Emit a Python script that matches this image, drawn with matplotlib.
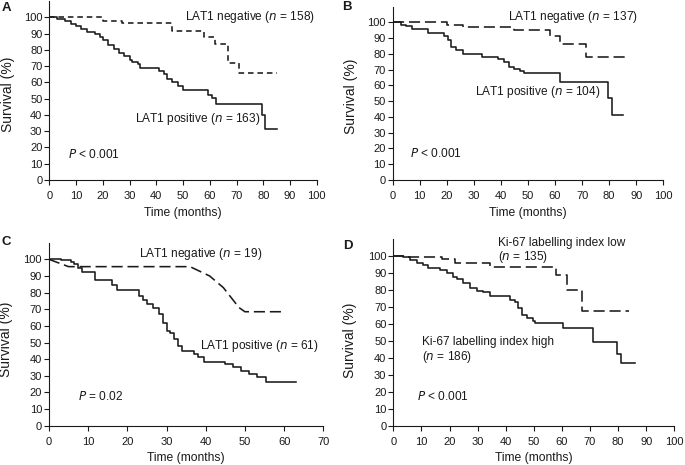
import matplotlib
matplotlib.use("Agg")
import matplotlib.pyplot as plt

plt.rcParams['font.family'] = ['Liberation Sans', 'DejaVu Sans']
plt.rcParams['lines.scale_dashes'] = False

# panel A: LAT1 expression, all patients
a_pos_t = [0, 3, 6, 8, 10, 12, 14, 17, 19, 20, 22, 24, 26, 28, 30, 31, 33, 34, 41, 43, 44, 46, 48, 50, 59.5, 61, 62.3, 79.5, 80.5, 85]
a_pos_s = [100, 99, 97.5, 96, 94.5, 92.5, 91, 89.5, 88, 86, 83, 80.5, 78, 76, 74, 72.5, 71, 68.6, 67, 65, 62, 60, 58, 55.3, 52, 50.5, 47, 40, 31.6, 31.6]
a_neg_t = [0, 20, 27, 46, 58, 62, 67, 71, 85]
a_neg_s = [100, 98, 96.5, 91.5, 88, 83.6, 72, 65.6, 65.6]

# panel B
b_pos_t = [0, 3, 5, 7, 13, 19, 20.5, 21.5, 23.5, 26, 33, 39, 41, 43, 45, 47, 48.5, 62, 79.5, 81, 85]
b_pos_s = [100, 98.5, 97.5, 95.8, 93, 91.5, 89, 84.6, 82.5, 79.9, 77.8, 76.5, 75, 71.9, 70.5, 69, 68, 62.4, 52, 41.4, 41.4]
b_neg_t = [0, 20, 26, 45, 58, 61.8, 71.5, 87]
b_neg_s = [100, 98.5, 97, 95, 91, 86, 78, 78]

# panel C
c_pos_t = [0, 3, 5.5, 6.5, 7.5, 8.5, 11.7, 16.2, 17.3, 23, 24, 25, 26.5, 28, 29, 30, 31, 32, 33, 34, 37, 38, 39.5, 45, 47, 49, 51, 53, 55.5, 63]
c_pos_s = [100, 99.3, 98.6, 97, 94.6, 92.6, 87.6, 84.6, 81.6, 78, 75.5, 73, 70.5, 67, 62, 57, 55.5, 52, 48, 45, 43, 41, 38.5, 37, 35, 33, 31, 29, 26, 26]
c_neg_t = [0, 5, 36, 41, 44.5, 48.5, 50, 60]
c_neg_s = [100, 95.6, 95.6, 90, 83, 71, 68.5, 68.5]

# panel D: Ki-67
d_pos_t = [0, 3.6, 5.9, 8.3, 10.7, 12.5, 16.6, 19, 21.4, 22.5, 24.9, 27.3, 29.7, 32, 34.4, 41.5, 43.3, 44.5, 45.7, 47.4, 49.8, 50.4, 60.3, 71, 79.5, 81, 86]
d_pos_s = [100, 99.2, 97.6, 95.7, 94.7, 92.7, 91.7, 89.8, 87.8, 86.2, 83.9, 80.9, 79.4, 78.6, 76.4, 74, 73, 69.2, 65.2, 63.3, 61.9, 60.3, 57.8, 49.5, 42, 36.7, 36.7]
d_neg_t = [0, 5, 17.5, 22, 34.5, 58, 61.7, 67, 84]
d_neg_s = [100, 99.2, 98, 96, 93.5, 89, 80, 67.5, 67.5]

ink = '#1a1a1a'
fs = 8.6
fig = plt.figure(figsize=(6.85, 4.65), dpi=100)


def setup(rect, xmax, xstep):
    ax = fig.add_axes(rect)
    ax.set_xlim(0, xmax)
    ax.set_ylim(0, 110)
    ax.set_xticks(range(0, xmax + 1, xstep))
    ax.set_yticks(range(0, 101, 10))
    for s in ['top', 'right']:
        ax.spines[s].set_visible(False)
    for s in ['left', 'bottom']:
        ax.spines[s].set_linewidth(0.8)
        ax.spines[s].set_color(ink)
    ax.tick_params(direction='out', length=3.5, width=0.8, color=ink,
                   labelsize=8, labelcolor=ink)
    ax.tick_params(axis='x', pad=4.5)
    ax.tick_params(axis='y', pad=1.5)
    ax.set_xlabel('Time (months)', fontsize=8.7, color=ink)
    ax.set_ylabel('Survival (%)', fontsize=10, color=ink)
    return ax


def curve(ax, t, s, dashes=None, steps=True):
    kw = dict(color=ink, lw=1.15)
    if steps:
        kw['drawstyle'] = 'steps-post'
    line, = ax.plot(t, s, **kw)
    if dashes:
        line.set_dashes(dashes)


def label(ax, x, y, pre, n):
    ax.text(x, y, pre + ' ($\\it{n}$ = ' + n + ')', fontsize=fs, color=ink, va='center')


# A
axA = setup([0.072, 0.6129, 0.3904, 0.385], 100, 10)
curve(axA, a_pos_t, a_pos_s)
curve(axA, a_neg_t, a_neg_s, dashes=(4.0, 2.8))
label(axA, 50.7, 100.2, 'LAT1 negative', '158')
label(axA, 32, 37.5, 'LAT1 positive', '163')
axA.text(7, 15.4, '$\\it{P}$ < 0.001', fontsize=fs, color=ink, va='center')
axA.yaxis.set_label_coords(-0.128, 0.48)
axA.xaxis.set_label_coords(0.5, -0.151)

# B
axB = setup([0.5733, 0.6129, 0.395, 0.3731], 100, 10)
curve(axB, b_pos_t, b_pos_s)
curve(axB, b_neg_t, b_neg_s, dashes=(8.0, 3.5))
label(axB, 42.6, 103.5, 'LAT1 negative', '137')
label(axB, 30.4, 56, 'LAT1 positive', '104')
axB.text(6.4, 16.5, '$\\it{P}$ < 0.001', fontsize=fs, color=ink, va='center')
axB.yaxis.set_label_coords(-0.128, 0.48)
axB.xaxis.set_label_coords(0.5, -0.157)

# C
axC = setup([0.0715, 0.0845, 0.4004, 0.3936], 70, 10)
curve(axC, c_pos_t, c_pos_s)
curve(axC, c_neg_t, c_neg_s, dashes=(8.0, 3.5), steps=False)
label(axC, 23, 103, 'LAT1 negative', '19')
label(axC, 38.5, 47.9, 'LAT1 positive', '61')
axC.text(7.5, 17.4, '$\\it{P}$ = 0.02', fontsize=fs, color=ink, va='center')
axC.yaxis.set_label_coords(-0.131, 0.47)
axC.xaxis.set_label_coords(0.5, -0.142)

# D
axD = setup([0.5742, 0.0845, 0.4102, 0.4015], 100, 10)
curve(axD, d_pos_t, d_pos_s)
curve(axD, d_neg_t, d_neg_s, dashes=(8.0, 3.5))
axD.text(37.4, 102.9, 'Ki-67 labelling index low\n($\\it{n}$ = 135)', fontsize=fs,
         color=ink, va='center', linespacing=1.05)
axD.text(10.1, 44.4, 'Ki-67 labelling index high\n($\\it{n}$ = 186)', fontsize=fs,
         color=ink, va='center', linespacing=1.15)
axD.text(8.3, 17.2, '$\\it{P}$ < 0.001', fontsize=fs, color=ink, va='center')
axD.yaxis.set_label_coords(-0.129, 0.46)
axD.xaxis.set_label_coords(0.5, -0.139)

# panel letters
for x, y, ch in [(2, 8, 'A'), (342, 7, 'B'), (2, 242, 'C'), (343, 246, 'D')]:
    fig.text(x / 685, 1 - y / 465, ch, fontsize=9.5, fontweight='bold', color=ink,
             va='center', ha='left')

fig.savefig('out.png', dpi=100)
